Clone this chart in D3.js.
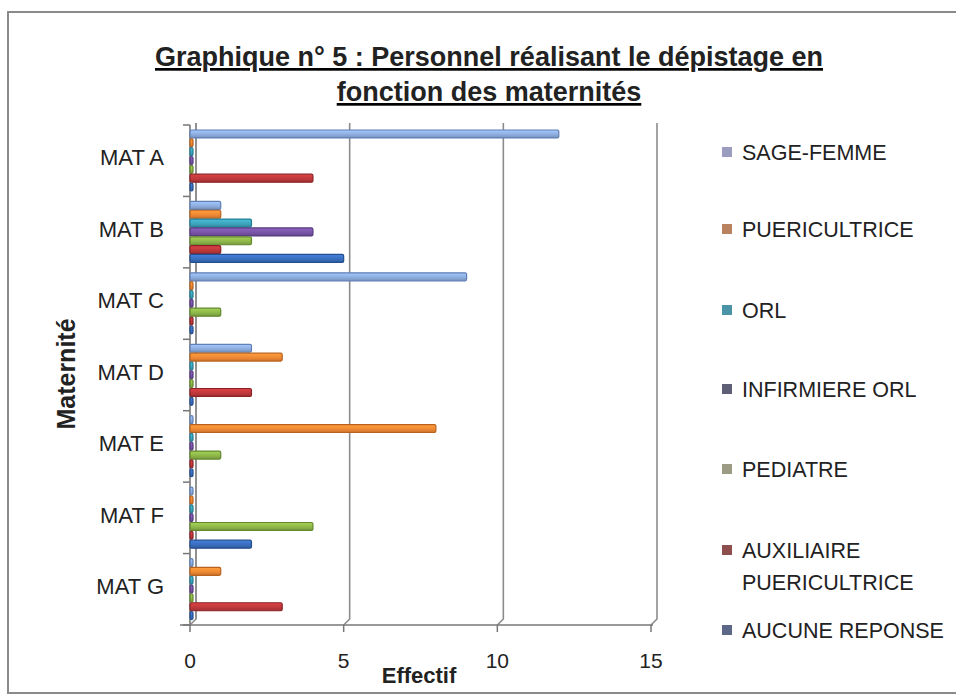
<!DOCTYPE html>
<html>
<head>
<meta charset="utf-8">
<script src="https://cdn.jsdelivr.net/npm/d3@7/dist/d3.min.js"></script>
<style>
  body { margin: 0; background: #fff; }
  text { font-family: "Liberation Sans", Arial, sans-serif; fill: #222; }
</style>
</head>
<body>
<div id="chart"></div>
<script>
// maternités (top to bottom)
const maternites = ["MAT A", "MAT B", "MAT C", "MAT D", "MAT E", "MAT F", "MAT G"];
// series, in drawing order inside each band
const series = ["SAGE-FEMME", "PUERICULTRICE", "ORL", "INFIRMIERE ORL", "PEDIATRE", "AUXILIAIRE PUERICULTRICE", "AUCUNE REPONSE"];
const sageFemme      = [12, 1, 9, 2, 0, 0, 0];
const puericultrice  = [0, 1, 0, 3, 8, 0, 1];
const orl            = [0, 2, 0, 0, 0, 0, 0];
const infirmiereOrl  = [0, 4, 0, 0, 0, 0, 0];
const pediatre       = [0, 2, 1, 0, 1, 4, 0];
const auxiliaire     = [4, 1, 0, 2, 0, 0, 3];
const aucuneReponse  = [0, 5, 0, 0, 0, 2, 0];
const xTicks = [0, 5, 10, 15];

const values = [sageFemme, puericultrice, orl, infirmiereOrl, pediatre, auxiliaire, aucuneReponse];
const fills   = ["#8eaee0", "#f08a35", "#3ea6bf", "#7a55a8", "#8fb84a", "#c0393c", "#3a6fc0"];
const strokes = ["#5f7fb5", "#b9621d", "#257d93", "#553a80", "#62872c", "#8c2225", "#254e8e"];
const swatch  = ["#9a9cc0", "#b8835e", "#4b93a6", "#5e5e76", "#9c9c84", "#8e4e4e", "#5d6888"];

const W = 956, H = 695;
const svg = d3.select("#chart").append("svg").attr("width", W).attr("height", H);

// shaded fill for the 3d-looking bars
const defs = svg.append("defs");
fills.forEach((c, i) => {
  const g = defs.append("linearGradient").attr("id", "g" + i)
    .attr("x1", 0).attr("y1", 0).attr("x2", 0).attr("y2", 1);
  g.append("stop").attr("offset", "0%").attr("stop-color", d3.color(c).brighter(0.4));
  g.append("stop").attr("offset", "55%").attr("stop-color", c);
  g.append("stop").attr("offset", "100%").attr("stop-color", d3.color(c).darker(0.5));
});

// outer frame
svg.append("rect").attr("x", 8).attr("y", 12).attr("width", W).attr("height", 681)
  .attr("fill", "#fff").attr("stroke", "#8a8a8a").attr("stroke-width", 2);

// title
const title = svg.append("g").attr("font-weight", "bold").attr("font-size", 27)
  .attr("text-anchor", "middle").attr("text-decoration", "underline");
title.append("text").attr("x", 489).attr("y", 66).text("Graphique n° 5 : Personnel réalisant le dépistage en");
title.append("text").attr("x", 489).attr("y", 101).text("fonction des maternités");

const plotTop = 125, plotBottom = 625, depth = 6;
const x = d3.scaleLinear().domain([0, 15]).range([190, 651]);
const y = d3.scaleBand().domain(maternites).range([plotTop, plotBottom]);
const yi = d3.scaleBand().domain(series).range([5, 66]).paddingInner(0.1);

// back wall grid lines (3d offset)
const grid = svg.append("g").attr("stroke", "#8c8c8c").attr("stroke-width", 1.6).attr("fill", "none");
xTicks.forEach(t => {
  grid.append("path").attr("d", `M${x(t)},${plotBottom} L${x(t) + depth},${plotBottom - depth} L${x(t) + depth},${plotTop - 2}`);
});
// left wall / y axis
grid.append("path").attr("d", `M${x(0)},${plotTop} L${x(0)},${plotBottom}`).attr("stroke", "#777");
grid.append("path").attr("d", `M${x(0) + depth},${plotTop - 2} L${x(0) + depth},${plotBottom - depth}`);
// floor / x axis
grid.append("path").attr("d", `M${x(0) - 10},${plotBottom} L${x(15) + 2},${plotBottom}`).attr("stroke", "#777");

// y ticks
const yTickPos = d3.range(maternites.length + 1).map(i => plotTop + i * y.step());
svg.append("g").selectAll("line").data(yTickPos).join("line")
  .attr("x1", x(0) - 7).attr("x2", x(0)).attr("y1", d => d).attr("y2", d => d)
  .attr("stroke", "#777").attr("stroke-width", 1.5);
// x ticks
svg.append("g").selectAll("line").data(xTicks).join("line")
  .attr("x1", d => x(d)).attr("x2", d => x(d)).attr("y1", plotBottom).attr("y2", plotBottom + 7)
  .attr("stroke", "#777").attr("stroke-width", 1.5);

// bars
const bars = svg.append("g");
maternites.forEach((m, mi) => {
  series.forEach((s, si) => {
    const v = values[si][mi];
    const w = Math.max(x(v) - x(0), 3);
    bars.append("rect")
      .attr("x", x(0)).attr("y", y(m) + yi(s))
      .attr("width", w).attr("height", yi.bandwidth())
      .attr("rx", 1.5)
      .attr("fill", `url(#g${si})`).attr("stroke", strokes[si]).attr("stroke-width", 1.2);
  });
});

// y labels
svg.append("g").selectAll("text").data(maternites).join("text")
  .attr("x", 164).attr("y", d => y(d) + y.bandwidth() / 2 - 3)
  .attr("dy", "0.35em").attr("text-anchor", "end").attr("font-size", 22)
  .text(d => d);

// x labels
svg.append("g").selectAll("text").data(xTicks).join("text")
  .attr("x", d => x(d)).attr("y", 668).attr("text-anchor", "middle").attr("font-size", 21)
  .text(d => d);

// axis titles
svg.append("text").attr("x", 419).attr("y", 683).attr("text-anchor", "middle")
  .attr("font-weight", "bold").attr("font-size", 22).text("Effectif");
svg.append("text").attr("transform", "translate(75,374) rotate(-90)").attr("text-anchor", "middle")
  .attr("font-weight", "bold").attr("font-size", 25).text("Maternité");

// legend
const legendRows = [
  { lines: ["SAGE-FEMME"], y: 152 },
  { lines: ["PUERICULTRICE"], y: 229 },
  { lines: ["ORL"], y: 310 },
  { lines: ["INFIRMIERE ORL"], y: 389 },
  { lines: ["PEDIATRE"], y: 469 },
  { lines: ["AUXILIAIRE", "PUERICULTRICE"], y: 550 },
  { lines: ["AUCUNE REPONSE"], y: 630 }
];
const legend = svg.append("g");
legendRows.forEach((r, i) => {
  legend.append("rect").attr("x", 722).attr("y", r.y - 5).attr("width", 10).attr("height", 10)
    .attr("fill", swatch[i]);
  r.lines.forEach((l, li) => {
    legend.append("text").attr("x", 742).attr("y", r.y + li * 32).attr("dy", "0.36em")
      .attr("font-size", 21.5).text(l);
  });
});
</script>
</body>
</html>
